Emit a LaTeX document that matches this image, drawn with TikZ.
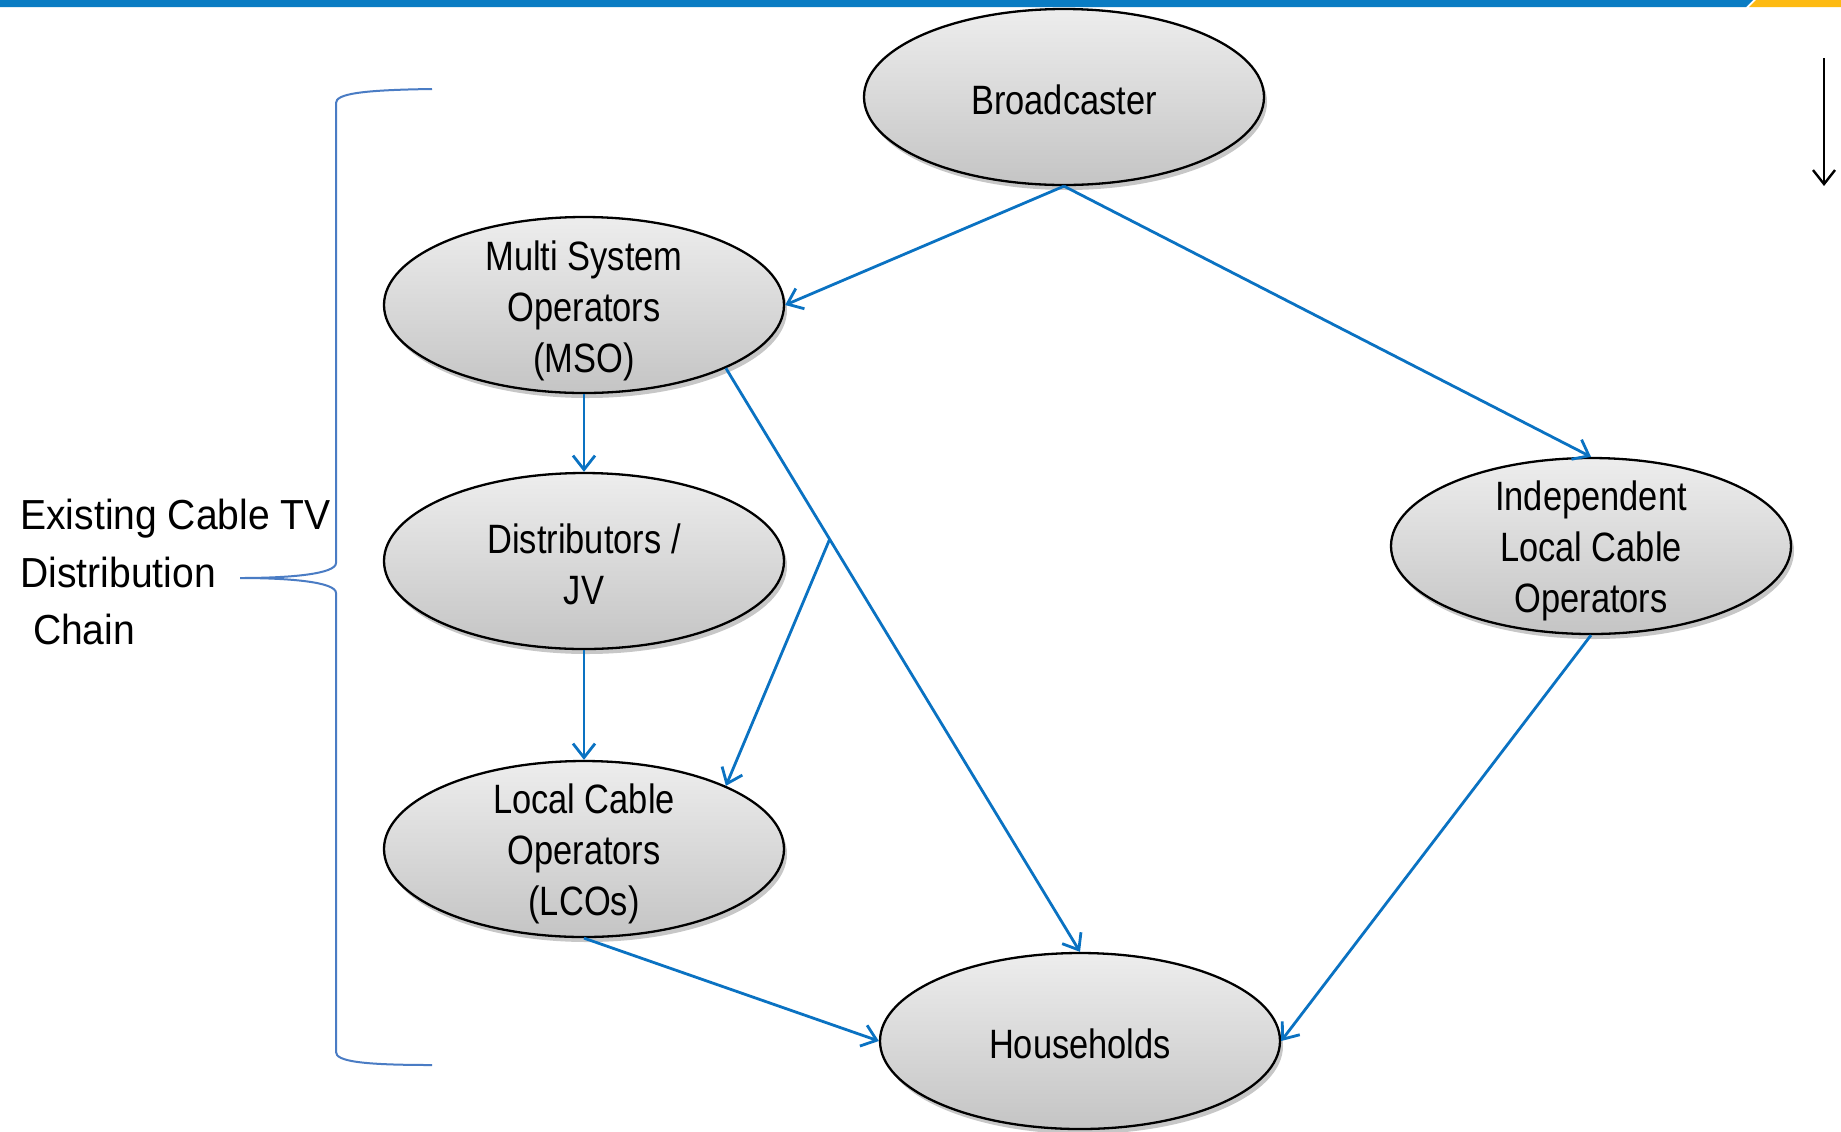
\documentclass[tikz,border=0pt]{standalone}
\usepackage{fontspec}
\setmainfont{Liberation Sans}
\newfontfamily\lblfont{Liberation Sans}[FakeStretch=0.93]
\newfontfamily\ovalfont{Liberation Sans}[FakeStretch=0.84]
\usetikzlibrary{shapes.geometric,arrows.meta,shadows}
\definecolor{barblue}{HTML}{0A7CC3}
\definecolor{baryellow}{HTML}{FDBA12}
\definecolor{arrblue}{HTML}{0A72C2}
\definecolor{braceblue}{HTML}{4A7CC4}
\tikzset{
  oval/.style={ellipse, draw=black, line width=1.15pt, minimum width=200pt, minimum height=88pt,
    inner sep=0pt, top color=black!7, bottom color=black!23,
    drop shadow={shadow xshift=1.5pt, shadow yshift=-2.5pt, opacity=0.22, fill=black}},
  ovaltext/.style={align=center, inner sep=0pt, font=\ovalfont\fontsize{20.5}{25.6}\selectfont},
  flow/.style={draw=arrblue, line width=1.4pt, -{Straight Barb[length=7pt,width=11pt,line width=1.4pt]}},
}
\begin{document}
\begin{tikzpicture}[x=0.5pt,y=-0.5pt]
\useasboundingbox (0,0) rectangle (1841,1131);
\fill[white] (0,0) rectangle (1841,1131);
% top bar
\fill[barblue] (0,0) -- (1753,0) -- (1746,7) -- (0,7) -- cycle;
\fill[baryellow] (1756,0) -- (1841,0) -- (1841,7) -- (1749,7) -- cycle;
% nodes
\node[oval] (bc) at (1064,97) {};
\node[oval] (mso) at (584,305) {};
\node[oval] (dist) at (584,561) {};
\node[oval] (lco) at (584,849) {};
\node[oval] (ind) at (1591,546) {};
\node[oval] (hh) at (1080,1041) {};
\node[ovaltext] (bct) at ([yshift=-1.2pt]bc) {Broadcaster};
\node[ovaltext] (msot) at ([yshift=-3pt]mso) {Multi System\\Operators\\(MSO)};
\node[ovaltext] (distt) at ([yshift=-1.5pt]dist) {Distributors /\\JV};
\node[ovaltext] (lcot) at ([yshift=-2.5pt]lco) {Local Cable\\Operators\\(LCOs)};
\node[ovaltext] (indt) at ([yshift=-2.5pt]ind) {Independent\\Local Cable\\Operators};
\node[ovaltext] (hht) at ([yshift=-1.2pt]hh) {Households};
% left label
\node[anchor=west, align=left, inner sep=0pt, font=\lblfont\fontsize{21}{28.75}\selectfont] (lbl) at (20,572)
  {Existing Cable TV\\Distribution\\\hspace*{0.3em}Chain};
% brace
\draw[braceblue, line width=1pt] (432,89) .. controls (360,90) and (336,94) .. (336,103)
  -- (336,563) .. controls (336,574) and (290,578) .. (240,578)
  .. controls (290,578) and (336,582) .. (336,593)
  -- (336,1052) .. controls (336,1061) and (360,1065) .. (432,1065);
% connectors
\draw[flow] (bc.south) -- (mso.east);
\draw[flow] (bc.south) -- (ind.north);
\draw[flow] (mso.south) -- (dist.north);
\draw[flow] (dist.south) -- (lco.north);
\draw[flow] (mso.-24.4) -- coordinate[pos=0.293] (split) (hh.north);
\draw[flow] (split) -- (lco.24);
\draw[flow] (lco.south) -- (hh.west);
\draw[flow] (ind.south) -- (hh.east);
% black arrow top right
\coordinate (ka) at (1824,58);
\coordinate (kb) at (1824,186);
\draw[black, line width=1.2pt, -{Straight Barb[length=7pt,width=11pt,line width=1.2pt]}] (ka) -- (kb);
\end{tikzpicture}
\end{document}
